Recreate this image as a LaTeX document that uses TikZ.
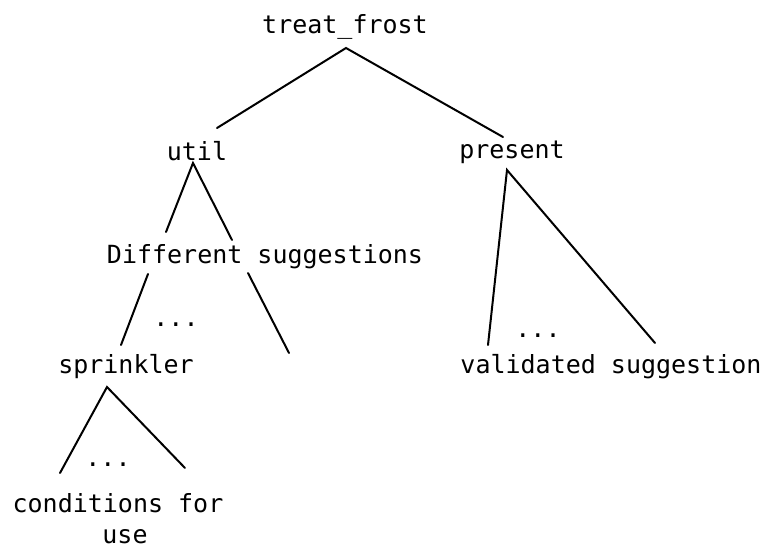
\documentclass[tikz,border=0pt]{standalone}
\usepackage{fontspec}
\setmonofont{DejaVu Sans Mono}
\begin{document}
\begin{tikzpicture}[x=1pt,y=-1pt,
  lbl/.style={font=\ttfamily\fontsize{25}{30}\selectfont, inner sep=0pt, anchor=base},
  edge/.style={line width=2pt, line cap=round}]
\useasboundingbox (0,0) rectangle (771,551);

% labels
\node[lbl] (tf)   at (345,34)  {treat\_frost};
\node[lbl] (util) at (197,160) {util};
\node[lbl] (pres) at (512,158) {present};
\node[lbl] (diff) at (265,263) {Different suggestions};
\node[lbl] (d1)   at (176,326) {...};
\node[lbl] (spr)  at (126,373) {sprinkler};
\node[lbl] (vs)   at (611,373) {validated suggestion};
\node[lbl] (d2)   at (538,337) {...};
\node[lbl] (d3)   at (108,466) {...};
\node[lbl] (cond) at (118,512) {conditions for};
\node[lbl] (use)  at (125,543) {use};

% branch points and free ends
\coordinate (tfA) at (346,48);
\coordinate (tfL) at (217,128);
\coordinate (tfR) at (503,137);
\coordinate (utA) at (193,163);
\coordinate (utL) at (166,232);
\coordinate (utR) at (232,240);
\coordinate (dfL1) at (148,274);
\coordinate (dfL2) at (121,345);
\coordinate (dfR1) at (248,273);
\coordinate (dfR2) at (289,353);
\coordinate (spA) at (107,387);
\coordinate (spL) at (60,473);
\coordinate (spR) at (185,468);
\coordinate (prA) at (507,170);
\coordinate (prL) at (488,345);
\coordinate (prR) at (655,343);

% tree edges
\draw[edge] (tfL) -- (tfA) -- (tfR);
\draw[edge] (utL) -- (utA) -- (utR);
\draw[edge] (dfL1) -- (dfL2);
\draw[edge] (dfR1) -- (dfR2);
\draw[edge] (spL) -- (spA) -- (spR);
\draw[edge] (prL) -- (prA) -- (prR);
\end{tikzpicture}
\end{document}
